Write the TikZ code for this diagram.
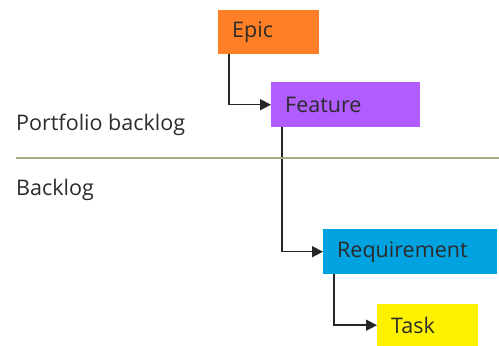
\documentclass[tikz,border=0pt]{standalone}
\usepackage{fontspec}
\setmainfont{Open Sans}
\usetikzlibrary{arrows.meta}
\definecolor{epicc}{HTML}{FF7F27}
\definecolor{featc}{HTML}{B05CFF}
\definecolor{reqc}{HTML}{00A3E0}
\definecolor{taskc}{HTML}{FFF200}
\definecolor{linec}{HTML}{A3AE7C}
\definecolor{txt}{HTML}{2B2B2B}
\begin{document}
\begin{tikzpicture}[x=1pt,y=1pt,
  wi/.style={anchor=north west, inner xsep=14pt, inner ysep=0pt, align=left,
    font=\fontsize{21.5}{24}\selectfont, text=txt},
  conn/.style={line width=1.5pt, draw=black!85, -{Triangle[length=11pt,width=11pt]}},
  lbl/.style={anchor=west, inner sep=0pt, font=\fontsize{21.5}{24}\selectfont, text=txt}]
\useasboundingbox (0,0) rectangle (499,346);
\node[wi, fill=epicc, text width=73pt, minimum height=44pt] (epic) at (218,336) {Epic};
\node[wi, fill=featc, text width=121pt, minimum height=45pt] (feat) at (271,264) {Feature};
\node[wi, fill=reqc, text width=146pt, minimum height=45pt] (req) at (323,117) {Requirement};
\node[wi, fill=taskc, text width=73pt, minimum height=42pt] (task) at (377,42) {Task};
\draw[conn] ([xshift=11pt]epic.south west) |- (feat.west);
\draw[conn] ([xshift=11pt]feat.south west) |- (req.west);
\draw[conn] ([xshift=11pt]req.south west) |- (task.west);
\coordinate (l1) at (16,188);
\coordinate (l2) at (499,188);
\draw[linec, line width=1.3pt] (l1) -- (l2);
\node[lbl] (pb) at (16,221) {Portfolio backlog};
\node[lbl] (bl) at (16,156) {Backlog};
\end{tikzpicture}
\end{document}
